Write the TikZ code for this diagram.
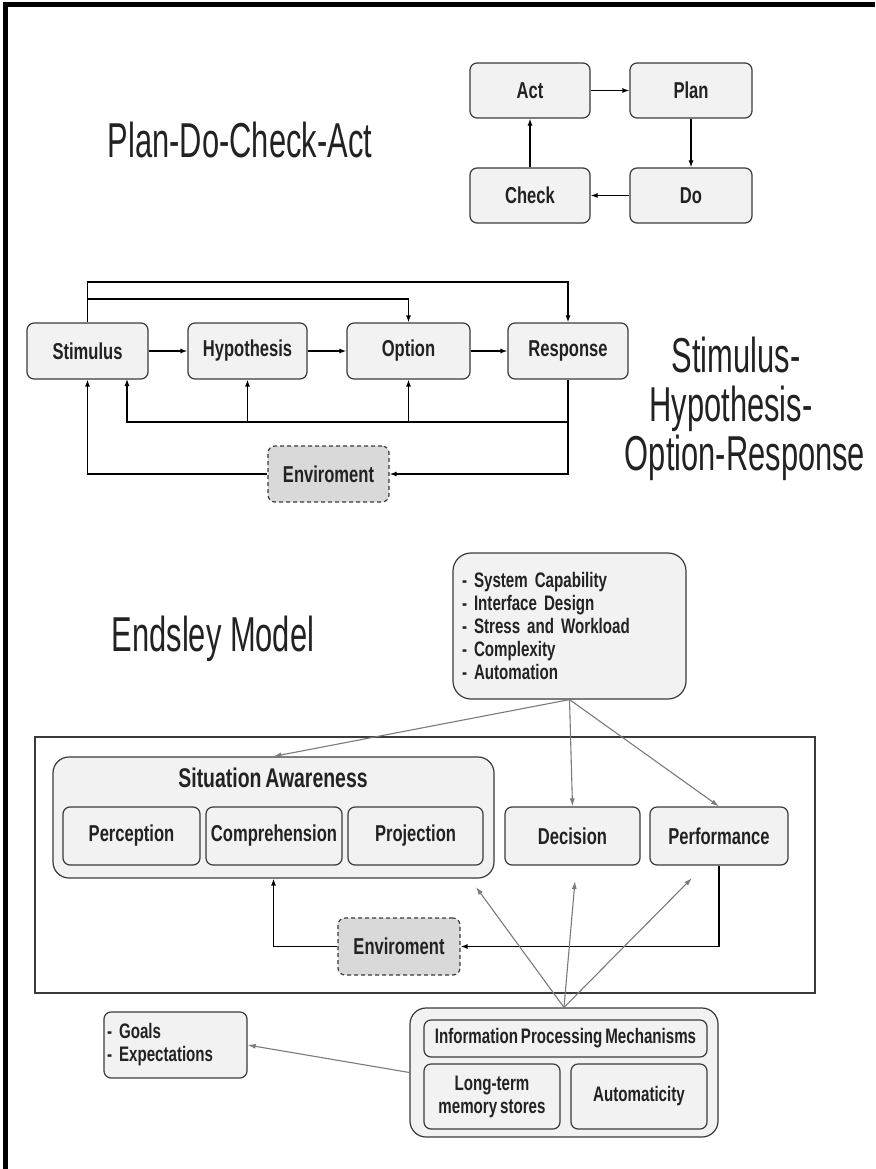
\documentclass[tikz,border=0pt]{standalone}
\usepackage{fontspec}
\setmainfont{Liberation Sans}
\newfontfamily\titlefont{Liberation Sans}[FakeStretch=0.63]
\newfontfamily\labelfont{Liberation Sans}[FakeStretch=0.72,WordSpace=0.7]
\usetikzlibrary{arrows.meta}

\definecolor{boxfill}{HTML}{F2F2F2}
\definecolor{boxline}{HTML}{3A3A3A}
\definecolor{envfill}{HTML}{D9D9D9}
\definecolor{txt}{HTML}{222222}
\definecolor{grayarrow}{HTML}{7A7A7A}

\begin{document}
\begin{tikzpicture}[x=1pt,y=-1pt,
  box/.style={draw=boxline, fill=boxfill, rounded corners=7pt, line width=1.2pt,
    inner sep=0pt, align=center, text=txt,
    font=\labelfont\bfseries\fontsize{23}{26}\selectfont},
  smallbox/.style={box, font=\labelfont\bfseries\fontsize{21}{23}\selectfont},
  envbox/.style={box, fill=envfill, dash pattern=on 4pt off 3pt},
  title/.style={text=txt, inner sep=0pt, anchor=base,
    font=\titlefont\fontsize{49}{50}\selectfont},
  arr/.style={-{Latex[length=7pt,width=5pt]}, line width=1.2pt, draw=black},
  garr/.style={-{Latex[length=8pt,width=5pt]}, line width=1.1pt, draw=grayarrow},
]
\useasboundingbox (0,0) rectangle (875,1169);

% page frame (top and left edges)
\draw[line width=4.5pt] (5.3,1169) -- (5.3,4.7) -- (875,4.7);

% ---------------- Plan-Do-Check-Act ----------------
\node[title] (pdcaTitle) at (240,158) {Plan-Do-Check-Act};
\node[box, minimum width=120pt, minimum height=55pt] (act)   at (530,90.5)  {Act};
\node[box, minimum width=122pt, minimum height=55pt] (plan)  at (691,90.5)  {Plan};
\node[box, minimum width=120pt, minimum height=55pt] (check) at (530,195.5) {Check};
\node[box, minimum width=122pt, minimum height=55pt] (do)    at (691,195.5) {Do};
\draw[arr] (act.east) -- (plan.west);
\draw[arr] (plan.south) -- (do.north);
\draw[arr] (do.west) -- (check.east);
\draw[arr] (check.north) -- (act.south);

% ---------------- Stimulus-Hypothesis-Option-Response ----------------
\node[title] (shorA) at (736,372) {Stimulus-};
\node[title] (shorB) at (731,421) {Hypothesis-};
\node[title] (shorC) at (745,470) {Option-Response};

\node[box, minimum width=121pt, minimum height=56pt] (stim) at (87.5,351)  {Stimulus};
\node[box, minimum width=119pt, minimum height=56pt] (hyp)  at (247.5,351) {Hypothesis};
\node[box, minimum width=123pt, minimum height=56pt] (opt)  at (408.5,351) {Option};
\node[box, minimum width=120pt, minimum height=56pt] (resp) at (568,351)   {Response};
\node[envbox, minimum width=121pt, minimum height=56pt] (env) at (328.5,474) {Enviroment};

\coordinate (lvlA) at (0,282);
\coordinate (lvlB) at (0,299);
\coordinate (lvlC) at (0,422);
\coordinate (stimB) at (127,379);

\draw[arr] (stim.east) -- (hyp.west);
\draw[arr] (hyp.east) -- (opt.west);
\draw[arr] (opt.east) -- (resp.west);
\draw[arr] (stim.north) -- (stim.north |- lvlA) -| (resp.north);
\draw[arr] (stim.north |- lvlB) -| (opt.north);
\draw[arr] (resp.south) -- (resp.south |- lvlC) -| (stimB);
\draw[arr] (hyp.south |- lvlC) -- (hyp.south);
\draw[arr] (opt.south |- lvlC) -- (opt.south);
\draw[arr] (resp.south |- lvlC) |- (env.east);
\draw[arr] (env.west) -| (stim.south);

% ---------------- Endsley Model ----------------
\node[title] (endTitle) at (213,651) {Endsley Model};

\node[smallbox, rounded corners=18pt, minimum width=233pt, minimum height=146pt,
      text width=215pt, align=left] (factors) at (569.5,626)
  {- System Capability\\- Interface Design\\- Stress and Workload\\- Complexity\\- Automation};

\draw[line width=1.3pt, draw=boxline] (35,737) rectangle (815,993);

\node[box, rounded corners=16pt, minimum width=441pt, minimum height=121pt] (sa) at (273.5,817.5) {};
\node[text=txt, inner sep=0pt, font=\labelfont\bfseries\fontsize{27}{30}\selectfont]
  (saLabel) at (273,778) {Situation Awareness};
\node[box, minimum width=137pt, minimum height=58pt] (perc) at (131.5,836) {Perception};
\node[box, minimum width=136pt, minimum height=58pt] (comp) at (274,836)   {Comprehension};
\node[box, minimum width=135pt, minimum height=58pt] (proj) at (415.5,836) {Projection};
\node[box, minimum width=135pt, minimum height=58pt] (dec)  at (572.5,836) {Decision};
\node[box, minimum width=138pt, minimum height=58pt] (perf) at (719,836)   {Performance};
\node[envbox, minimum width=122pt, minimum height=57pt] (env2) at (399,946.5) {Enviroment};

\draw[arr] (perf.south) |- (env2.east);
\draw[arr] (env2.west) -| (sa.south);

\draw[garr] (factors.south) -- (sa.north);
\draw[garr] (factors.south) -- (dec.north);
\draw[garr] (factors.south) -- (perf.north);

\node[box, rounded corners=16pt, minimum width=308pt, minimum height=129pt] (ipm) at (564,1072.5) {};
\node[smallbox, minimum width=283pt, minimum height=37pt] (ipmTop) at (565.5,1038.5) {Information Processing Mechanisms};
\node[smallbox, minimum width=136pt, minimum height=65pt] (ltm)  at (492,1096.5) {Long-term\\memory stores};
\node[smallbox, minimum width=136pt, minimum height=65pt] (auto) at (639,1096.5) {Automaticity};

\node[smallbox, minimum width=143pt, minimum height=66pt, text width=137pt, align=left]
  (goals) at (175.5,1045) {- Goals\\- Expectations};

\coordinate (tipA) at (476,887);
\coordinate (tipB) at (575,881);
\coordinate (tipC) at (692,878);
\draw[garr] (ipm.north) -- (tipA);
\draw[garr] (ipm.north) -- (tipB);
\draw[garr] (ipm.north) -- (tipC);
\draw[garr] (ipm.west) -- (goals.east);
\end{tikzpicture}
\end{document}
